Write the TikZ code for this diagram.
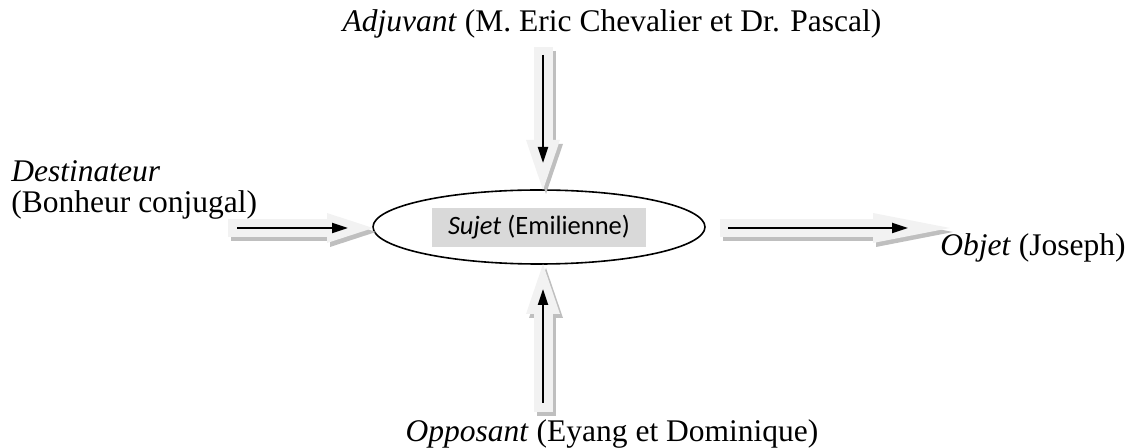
\documentclass[tikz,border=0pt]{standalone}
\usepackage{fontspec}
\setmainfont{Liberation Serif}
\newfontfamily\sujetfont{Carlito}
\usetikzlibrary{arrows.meta,shapes.geometric}

\definecolor{blkfill}{HTML}{F2F2F2}
\definecolor{blkshade}{HTML}{BFBFBF}
\definecolor{sujetbg}{HTML}{D9D9D9}

\tikzset{
  role/.style={font=\fontsize{15.75}{15.5}\selectfont, inner sep=0pt},
  blk/.style={line width=#1, draw=blkfill},
  blkshadow/.style={line width=#1, draw=blkshade,
    transform canvas={shift={(1.5pt,-2pt)}}},
  blackarrow/.style={line width=1.1pt, -{Triangle[length=8pt,width=5pt]}},
}

\begin{document}
\begin{tikzpicture}[x=0.5pt,y=-0.5pt]
  \useasboundingbox (0,0) rectangle (1130,448);

  % actant au centre
  \node[ellipse, draw, line width=0.8pt, minimum width=166pt,
        minimum height=37pt] (sujet) at (539,227) {};
  \node[fill=sujetbg, minimum width=107pt, minimum height=19.5pt,
        inner sep=0pt, font=\sujetfont\fontsize{13.25}{14}\selectfont]
        (sujettxt) at (539,227.5) {\textit{Sujet} (Emilienne)};

  % les autres actants
  \node[role, anchor=base] (adj) at (612,32)
    {\textit{Adjuvant} (M. Eric Chevalier et Dr. Pascal)};
  \node[role, anchor=base west, align=left] (dest) at (11,213)
    {\textit{Destinateur}\\(Bonheur conjugal)};
  \node[role, anchor=base west] (obj) at (940,256)
    {\textit{Objet} (Joseph)};
  \node[role, anchor=base] (opp) at (612,442)
    {\textit{Opposant} (Eyang et Dominique)};

  % bouts libres des fleches
  \coordinate (desttail) at (228,228);
  \coordinate (sujetw) at (373,228);
  \coordinate (objtail) at (720,228);
  \coordinate (objtip) at (950,228);
  \coordinate (adjtail) at (543,47);
  \coordinate (sujetn) at (543,190);
  \coordinate (opptail) at (543,412);
  \coordinate (sujets) at (543,264);

  % fleches larges
  \draw[blkshadow=9pt, -{Triangle[length=23pt,width=15pt,line width=0pt]}]
    (desttail) -- (sujetw);
  \draw[blk=9pt, -{Triangle[length=23pt,width=15pt,line width=0pt]}]
    (desttail) -- (sujetw);
  \draw[blkshadow=9pt, -{Triangle[length=38.5pt,width=15pt,line width=0pt]}]
    (objtail) -- (objtip);
  \draw[blk=9pt, -{Triangle[length=38.5pt,width=15pt,line width=0pt]}]
    (objtail) -- (objtip);
  \draw[blkshadow=9.5pt, -{Triangle[length=25pt,width=17pt,line width=0pt]}]
    (adjtail) -- (sujetn);
  \draw[blk=9.5pt, -{Triangle[length=25pt,width=17pt,line width=0pt]}]
    (adjtail) -- (sujetn);
  \draw[blkshadow=9.5pt, -{Triangle[length=25pt,width=17pt,line width=0pt]}]
    (opptail) -- (sujets);
  \draw[blk=9.5pt, -{Triangle[length=25pt,width=17pt,line width=0pt]}]
    (opptail) -- (sujets);

  % fleches fines
  \draw[blackarrow, shorten <=4.5pt, shorten >=12.5pt] (desttail) -- (sujetw);
  \draw[blackarrow, shorten <=4pt, shorten >=21pt] (objtail) -- (objtip);
  \draw[blackarrow, shorten <=4pt, shorten >=13.5pt] (adjtail) -- (sujetn);
  \draw[blackarrow, shorten <=4.5pt, shorten >=12.5pt] (opptail) -- (sujets);
\end{tikzpicture}
\end{document}
